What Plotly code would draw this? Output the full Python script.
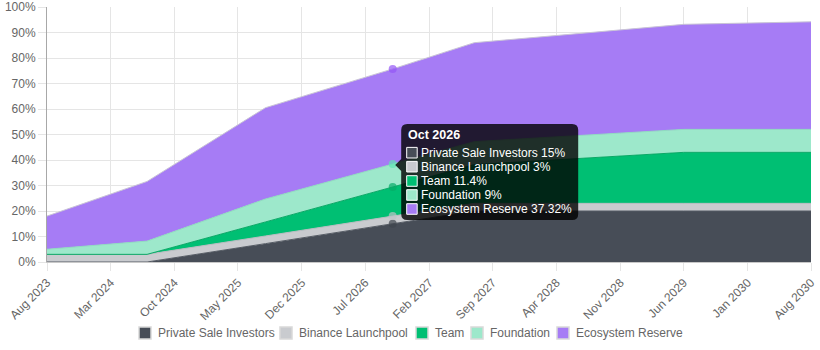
import plotly.graph_objects as go

# ---- data ----
months = ["2023-08-01", "2024-07-01", "2025-08-01", "2026-10-01",
          "2027-07-01", "2029-06-01", "2030-08-01"]
series_names = ["Private Sale Investors", "Binance Launchpool", "Team",
                "Foundation", "Ecosystem Reserve"]
private_sale = [0, 0, 7.2, 15, 20, 20, 20]
launchpool = [3, 3, 3, 3, 3, 3, 3]
team = [0, 0, 5.5, 11.4, 15.2, 20, 20]
foundation = [2, 5.2, 9, 9, 9, 9, 9]
ecosystem = [13, 23.4, 35.8, 37.32, 38.8, 41.2, 42.2]
series_values = [private_sale, launchpool, team, foundation, ecosystem]

tooltip_month = "2026-10-01"
tooltip_title = "Oct 2026"

# ---- styles ----
fill_colors = ["#474d57", "#c9cbcf", "#00bf73", "#9de8cb", "#a67cf5"]
line_colors = ["#555b64", "#b9bcc1", "#0aa866", "#8fdcbf", "#c9c4d6"]
hover_colors = ["#3e444d", "#bfc2c7", "#06ab66", "#5fe6b2", "#9456f6"]
FONT = "Liberation Sans, Arial, Helvetica, sans-serif"

W, H = 820, 350
ML, MR, MT, MB = 47, 9, 7, 88
PW, PH = W - ML - MR, H - MT - MB


def px_to_paper_x(px):
    return (px - ML) / PW


def px_to_paper_y(py):
    return (H - MB - py) / PH


fig = go.Figure()
tip_idx = months.index(tooltip_month)
for name, vals, fc, lc, hc in zip(series_names, series_values, fill_colors,
                                   line_colors, hover_colors):
    sizes = [8 if m == tooltip_month else 0 for m in months]
    fig.add_trace(go.Scatter(
        x=months, y=vals, name=name, stackgroup="one", mode="lines+markers",
        line=dict(color=lc, width=1), fillcolor=fc,
        marker=dict(size=sizes, color=hc, line=dict(width=0)),
        showlegend=False, hoverinfo="skip"))

shapes = []
annotations = []

# ---- legend (Chart.js style, boxes + labels) ----
legend_box_px = [139, 280, 416, 471, 557]
legend_y = 333
for name, fc, bx in zip(series_names, fill_colors, legend_box_px):
    shapes.append(dict(type="rect", xref="paper", yref="paper",
                       x0=px_to_paper_x(bx), x1=px_to_paper_x(bx + 12),
                       y0=px_to_paper_y(legend_y + 6), y1=px_to_paper_y(legend_y - 6),
                       fillcolor=fc, line=dict(color="#d9d9d9", width=1.5)))
    annotations.append(dict(xref="paper", yref="paper",
                            x=px_to_paper_x(bx + 17), y=px_to_paper_y(legend_y),
                            xanchor="left", yanchor="middle", showarrow=False,
                            text=name,
                            font=dict(family=FONT, size=12, color="#666666")))

# ---- tooltip (drawn relative to the hovered data point) ----
tip_y = 35.3
box_path = ("M 14.5,48 L 179.5,48 Q 185.5,48 185.5,42 L 185.5,-42 "
            "Q 185.5,-48 179.5,-48 L 14.5,-48 Q 8.5,-48 8.5,-42 "
            "L 8.5,1 L 2.5,7 L 8.5,13 L 8.5,42 Q 8.5,48 14.5,48 Z")
shapes.append(dict(type="path", xref="x", yref="y", xsizemode="pixel",
                   ysizemode="pixel", xanchor=tooltip_month, yanchor=tip_y,
                   path=box_path, fillcolor="rgba(0,0,0,0.8)",
                   line=dict(width=0), layer="above"))
annotations.append(dict(xref="x", yref="y", x=tooltip_month, y=tip_y,
                        xshift=13, yshift=37, xanchor="left", yanchor="middle",
                        showarrow=False, text=f"<b>{tooltip_title}</b>",
                        font=dict(family=FONT, size=12.5, color="white")))
line_offsets = [19.3, 5.3, -9, -23, -37]
for name, vals, fc, dy in zip(series_names, series_values, fill_colors, line_offsets):
    shapes.append(dict(type="rect", xref="x", yref="y", xsizemode="pixel",
                       ysizemode="pixel", xanchor=tooltip_month, yanchor=tip_y,
                       x0=14, x1=24.5, y0=dy - 5.3, y1=dy + 5.3,
                       fillcolor=fc, line=dict(color="white", width=1),
                       layer="above"))
    annotations.append(dict(xref="x", yref="y", x=tooltip_month, y=tip_y,
                            xshift=26, yshift=dy, xanchor="left",
                            yanchor="middle", showarrow=False,
                            text=f"{name} {vals[tip_idx]:g}%",
                            font=dict(family=FONT, size=12, color="white")))

fig.update_layout(
    width=W, height=H,
    margin=dict(l=ML, r=MR, t=MT, b=MB, autoexpand=False),
    paper_bgcolor="white", plot_bgcolor="white",
    font=dict(family=FONT, size=12, color="#666666"),
    showlegend=False,
    xaxis=dict(type="date", range=[months[0], months[-1]],
               tick0=months[0], dtick="M7", tickformat="%b %Y",
               tickangle=-45, showgrid=True, gridcolor="#e5e5e5",
               ticks="outside", ticklen=8, tickcolor="#e5e5e5",
               showline=True, linecolor="#c8c8c8", zeroline=False,
               automargin=False),
    yaxis=dict(range=[0, 100], dtick=10, ticksuffix="%", showgrid=True,
               gridcolor="#e5e5e5", ticks="outside", ticklen=8,
               tickcolor="#e5e5e5", showline=True, linecolor="#a8a8a8",
               zeroline=False, automargin=False),
    shapes=shapes, annotations=annotations,
)

fig.write_html("out.html")
